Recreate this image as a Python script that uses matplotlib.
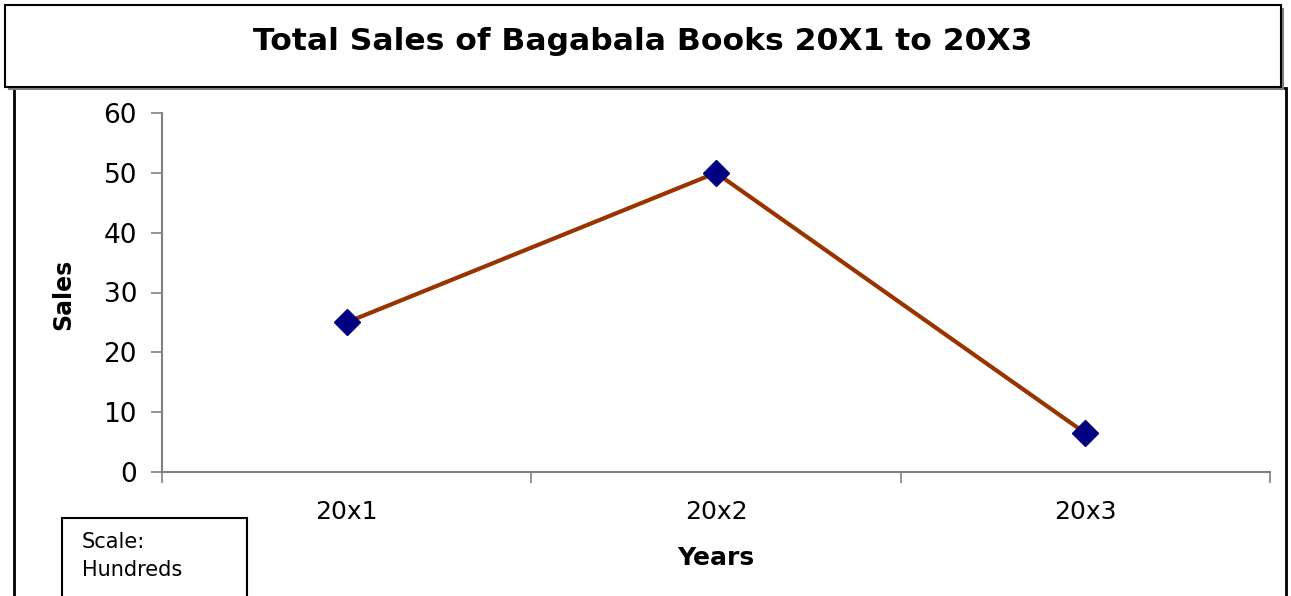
import matplotlib
matplotlib.use("Agg")
import matplotlib.pyplot as plt
from matplotlib.patches import Rectangle

# chart data
years = ["20x1", "20x2", "20x3"]
sales = [25, 50, 6.5]
y_ticks = [0, 10, 20, 30, 40, 50, 60]

W, H = 1291, 596

def fx(x):
    return x / W

def fy(y):
    return 1 - y / H

fig = plt.figure(figsize=(W / 100, H / 100), dpi=100)
plt.rcParams['font.family'] = ['DejaVu Sans']

# outer chart frame (bottom is cut off in the original)
fig.patches.append(Rectangle((fx(14), fy(620)), fx(1286) - fx(14), fy(88) - fy(620),
                             transform=fig.transFigure, fill=False, ec='black', lw=2, zorder=1))

# title box with a little shadow
fig.patches.append(Rectangle((fx(8), fy(90)), fx(1284) - fx(8), fy(8) - fy(90),
                             transform=fig.transFigure, fc='#808080', ec='none', zorder=2))
fig.patches.append(Rectangle((fx(5), fy(87)), fx(1281) - fx(5), fy(5) - fy(87),
                             transform=fig.transFigure, fc='white', ec='black', lw=1.5, zorder=3))
fig.text(fx(643), fy(41), "Total Sales of Bagabala Books 20X1 to 20X3",
         ha='center', va='center', fontsize=22.6, fontweight='bold', zorder=4)

ax = fig.add_axes([fx(162), fy(472), fx(1270) - fx(162), fy(113) - fy(472)])
x = list(range(1, len(years) + 1))
ax.plot(x, sales, color='#993300', lw=3, marker='D', ms=13,
        mfc='#000080', mec='#000080', zorder=3, clip_on=False)

ax.set_xlim(0.5, len(years) + 0.5)
ax.set_ylim(0, 60)
ax.set_yticks(y_ticks)
ax.set_xticks([i + 0.5 for i in range(len(years) + 1)])
ax.set_xticklabels([])
ax.set_xticks(x, minor=True)
ax.set_xticklabels(years, minor=True)
ax.tick_params(axis='x', which='minor', length=0, pad=20, labelsize=18)
ax.tick_params(axis='x', which='major', length=8, width=1.2, color='#808080', direction='out')
ax.tick_params(axis='y', length=8, width=1.2, color='#808080', labelsize=19, pad=10)

for s in ['top', 'right']:
    ax.spines[s].set_visible(False)
for s in ['left', 'bottom']:
    ax.spines[s].set_color('#808080')
    ax.spines[s].set_linewidth(1.5)
ax.patch.set_alpha(0)

fig.text(fx(63), fy(294), "Sales", rotation=90, ha='center', va='center',
         fontsize=17, fontweight='bold')
fig.text(fx(716), fy(558), "Years", ha='center', va='center',
         fontsize=18, fontweight='bold')

# scale note box
fig.patches.append(Rectangle((fx(62), fy(620)), fx(247) - fx(62), fy(518) - fy(620),
                             transform=fig.transFigure, fill=False, ec='black', lw=1.5, zorder=2))
fig.text(fx(82), fy(542), "Scale:", ha='left', va='center', fontsize=15)
fig.text(fx(82), fy(570), "Hundreds", ha='left', va='center', fontsize=15)

fig.savefig("out.png", dpi=100)
